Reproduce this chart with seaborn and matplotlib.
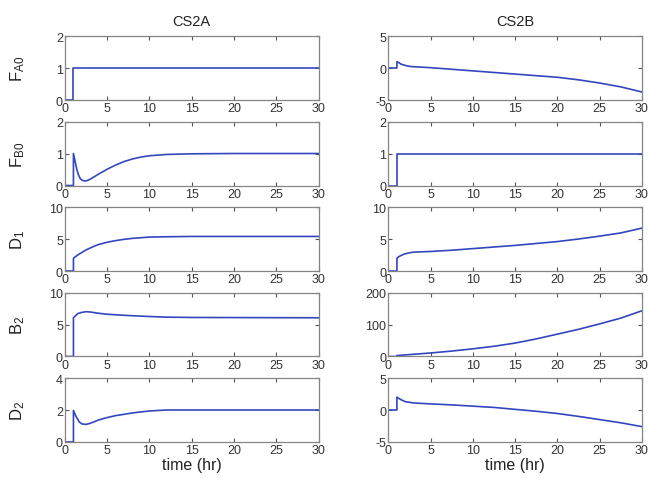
import matplotlib
matplotlib.use('Agg')
import matplotlib.pyplot as plt
import seaborn as sns

# ---- data (time in hr) ----
# CS2A
t_a_fa0 = [0, 1, 1, 30]
a_fa0 = [0, 0, 1, 1]

t_a_fb0 = [0, 1, 1, 1.2, 1.4, 1.6, 1.8, 2.0, 2.3, 2.6, 3, 3.5, 4, 5, 6, 7, 8, 9, 10, 12, 15, 20, 30]
a_fb0 = [0, 0, 1.0, 0.75, 0.5, 0.33, 0.22, 0.17, 0.14, 0.15, 0.2, 0.28, 0.36, 0.51, 0.64, 0.75, 0.83,
         0.89, 0.93, 0.97, 0.99, 1.0, 1.0]

t_a_d1 = [0, 1, 1, 1.5, 2, 2.5, 3, 3.5, 4, 5, 6, 7, 8, 9, 10, 12, 15, 30]
a_d1 = [0, 0, 2.0, 2.5, 2.9, 3.3, 3.6, 3.9, 4.15, 4.5, 4.75, 4.95, 5.1, 5.2, 5.3, 5.35, 5.4, 5.4]

t_a_b2 = [0, 1, 1, 1.5, 2, 2.5, 3, 4, 5, 7.5, 10, 12, 15, 30]
a_b2 = [0, 0, 6.05, 6.7, 6.9, 7.0, 6.95, 6.75, 6.6, 6.4, 6.25, 6.15, 6.1, 6.05]

t_a_d2 = [0, 1, 1, 1.3, 1.7, 2, 2.5, 3, 4, 5, 6, 7, 8, 10, 12, 30]
a_d2 = [0, 0, 1.97, 1.6, 1.25, 1.13, 1.1, 1.17, 1.38, 1.53, 1.65, 1.73, 1.82, 1.94, 2.0, 2.0]

# CS2B
t_b_fa0 = [0, 1, 1, 1.2, 1.5, 2, 2.5, 3, 5, 7.5, 10, 12.5, 15, 17.5, 20, 22.5, 25, 27.5, 30]
b_fa0 = [0, 0, 1.0, 0.85, 0.6, 0.4, 0.25, 0.2, 0.05, -0.2, -0.45, -0.7, -0.95, -1.2, -1.45,
         -1.85, -2.35, -2.95, -3.75]

t_b_fb0 = [0, 1, 1, 30]
b_fb0 = [0, 0, 1, 1]

t_b_d1 = [0, 1, 1, 1.3, 1.7, 2, 2.5, 3, 4, 5, 7.5, 10, 12.5, 15, 17.5, 20, 22.5, 25, 27.5, 30]
b_d1 = [0, 0, 2.0, 2.3, 2.55, 2.7, 2.85, 2.95, 3.0, 3.05, 3.25, 3.5, 3.75, 4.0, 4.3, 4.6, 5.0,
        5.45, 5.95, 6.7]

t_b_b2 = [0, 1, 1, 2, 3, 5, 7.5, 10, 12.5, 15, 17.5, 20, 22.5, 25, 27.5, 30]
b_b2 = [0, 0, 3, 5, 7, 11, 17, 24, 32, 42, 55, 70, 85, 102, 120, 143]

t_b_d2 = [0, 1, 1, 1.5, 2, 3, 5, 7.5, 10, 12.5, 15, 17.5, 20, 22.5, 25, 27.5, 30]
b_d2 = [0, 0, 2.0, 1.6, 1.3, 1.1, 0.95, 0.8, 0.6, 0.4, 0.1, -0.2, -0.55, -1.0, -1.5, -2.0, -2.6]

row_labels = [r'$\mathregular{F_{A0}}$', r'$\mathregular{F_{B0}}$', r'$\mathregular{D_1}$',
              r'$\mathregular{B_2}$', r'$\mathregular{D_2}$']
col_titles = ['CS2A', 'CS2B']
x_ticks = [0, 5, 10, 15, 20, 25, 30]

series_a = [(t_a_fa0, a_fa0), (t_a_fb0, a_fb0), (t_a_d1, a_d1), (t_a_b2, a_b2), (t_a_d2, a_d2)]
series_b = [(t_b_fa0, b_fa0), (t_b_fb0, b_fb0), (t_b_d1, b_d1), (t_b_b2, b_b2), (t_b_d2, b_d2)]
yticks_a = [[0, 1, 2], [0, 1, 2], [0, 5, 10], [0, 5, 10], [0, 2, 4]]
yticks_b = [[-5, 0, 5], [0, 1, 2], [0, 5, 10], [0, 100, 200], [-5, 0, 5]]

sns.set_style('white')
plt.rcParams['font.family'] = ['Liberation Sans', 'DejaVu Sans']
plt.rcParams['mathtext.fontset'] = 'custom'
plt.rcParams['mathtext.rm'] = 'Liberation Sans'
plt.rcParams['axes.unicode_minus'] = False

line_color = '#3346bf'
edge_color = '#858585'
text_color = '#333333'

fig = plt.figure(figsize=(6.48, 4.85), dpi=100)
gs = fig.add_gridspec(5, 2, left=0.1003, right=0.9907, top=0.9237, bottom=0.0866,
                      wspace=0.276, hspace=0.336)

for col, (series, yticks) in enumerate([(series_a, yticks_a), (series_b, yticks_b)]):
    for row in range(5):
        ax = fig.add_subplot(gs[row, col])
        t, v = series[row]
        sns.lineplot(x=t, y=v, ax=ax, sort=False, estimator=None, color=line_color, linewidth=1.2)
        ax.set_xlim(0, 30)
        ax.set_ylim(yticks[row][0], yticks[row][-1])
        ax.set_xticks(x_ticks)
        ax.set_yticks(yticks[row])
        ax.tick_params(direction='in', bottom=True, left=True, top=True, right=True,
                       length=3, width=0.8, color='#555555', labelsize=9,
                       labelcolor=text_color, pad=1.5)
        for sp in ax.spines.values():
            sp.set_color(edge_color)
            sp.set_linewidth(0.9)
        if col == 0:
            ax.set_ylabel(row_labels[row], fontsize=12, color='#222222')
            ax.yaxis.set_label_coords(-0.15, 0.5)
        if row == 0:
            ax.set_title(col_titles[col], fontsize=10.5, color='#222222', pad=8)
        if row == 4:
            ax.set_xlabel('time (hr)', fontsize=11.5, color='#222222', labelpad=1)

fig.savefig('out.png', dpi=100)
